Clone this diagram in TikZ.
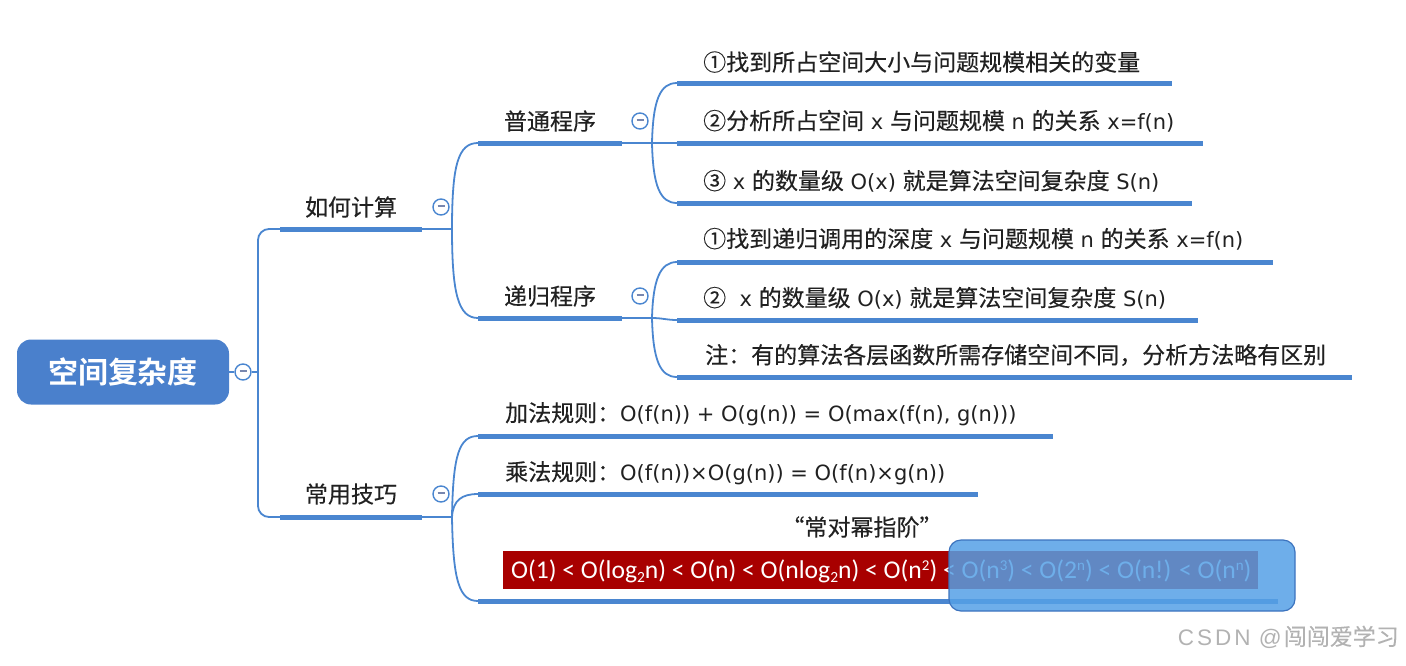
\documentclass[tikz,border=0pt]{standalone}
\usepackage{fontspec}
\setmainfont{DejaVu Sans}
\newfontfamily\cjk{Noto Sans CJK SC}[FakeBold=0.25]
\newfontfamily\cjkroot{Noto Sans CJK SC Bold}
\newfontfamily\calfont{Carlito}
\newfontfamily\wmfont{Liberation Sans}
\newcommand{\zh}[1]{{\cjk\fontsize{23}{24}\selectfont #1}}
\definecolor{lb}{RGB}{74,134,208}
\definecolor{rootb}{RGB}{74,128,204}
\definecolor{darkred}{RGB}{168,0,0}
\definecolor{ovl}{RGB}{85,160,230}
\definecolor{ovlb}{RGB}{60,115,190}
\definecolor{minusc}{RGB}{120,135,175}
\newcommand{\lsub}[1]{\raisebox{-4pt}{\fontsize{15.5}{16}\selectfont #1}}
\newcommand{\lsup}[1]{\raisebox{8pt}{\fontsize{15}{16}\selectfont #1}}
\begin{document}
\begin{tikzpicture}[x=1pt,y=-1pt,
  ul/.style={line width=5pt, draw=lb},
  conn/.style={line width=1.8pt, draw=lb},
  txt/.style={font=\fontsize{21}{24}\selectfont, text=black!87, inner sep=0pt, anchor=west},
  ctxt/.style={font=\cjk\fontsize{23}{24}\selectfont, text=black!87, inner sep=0pt},
  coll/.style={circle, draw=lb, line width=1.4pt, fill=white, minimum size=16pt, inner sep=0pt,
    text=minusc, font=\fontsize{8}{8}\selectfont},
]
\useasboundingbox (0,0) rectangle (1406,665);

% root
\node[rounded corners=14pt, fill=rootb, minimum width=212pt, minimum height=65pt, inner sep=0pt,
  text=white, font=\cjkroot\fontsize{30}{32}\selectfont] (root) at (123,372) {空间复杂度};
\node[coll] (rc) at (243,372) {\rule[1.5pt]{7pt}{1.6pt}};
\coordinate (r) at (258,372);
\draw[conn] (root.east) -- (rc.west);
\draw[conn] (rc.east) -- (r);

% level 1
\coordinate (a1) at (280,229); \coordinate (a2) at (422,229); \coordinate (aj) at (452,229);
\coordinate (b1) at (280,517); \coordinate (b2) at (422,517); \coordinate (bj) at (452,517);
\draw[conn, rounded corners=11pt] (a1) -| (r);
\draw[conn, rounded corners=11pt] (b1) -| (r);
\draw[ul] (a1) -- (a2); \draw[conn] (a2) -- (aj);
\draw[ul] (b1) -- (b2); \draw[conn] (b2) -- (bj);
\node[ctxt] (n1) at (351,207) {如何计算};
\node[ctxt] (n2) at (351,494) {常用技巧};
\node[coll] (c1) at (441,207) {\rule[1.5pt]{7pt}{1.6pt}};
\node[coll] (c2) at (441,494) {\rule[1.5pt]{7pt}{1.6pt}};

% level 2 under 如何计算
\coordinate (p1) at (478,143); \coordinate (p2) at (622,143); \coordinate (pj) at (652,143);
\coordinate (q1) at (478,318); \coordinate (q2) at (622,318); \coordinate (qj) at (652,318);
\draw[conn] (aj) .. controls (452,165) and (458,143) .. (p1);
\draw[conn] (aj) .. controls (452,293) and (458,318) .. (q1);
\draw[ul] (p1) -- (p2); \draw[conn] (p2) -- (pj);
\draw[ul] (q1) -- (q2); \draw[conn] (q2) -- (qj);
\node[ctxt] (n11) at (550,121) {普通程序};
\node[ctxt] (n12) at (550,296) {递归程序};
\node[coll] (c11) at (640,121) {\rule[1.5pt]{7pt}{1.6pt}};
\node[coll] (c12) at (640,296) {\rule[1.5pt]{7pt}{1.6pt}};

% leaves of 普通程序
\coordinate (u1s) at (677,83);  \coordinate (u1e) at (1172,83);
\coordinate (u2s) at (677,143); \coordinate (u2e) at (1203,143);
\coordinate (u3s) at (677,203); \coordinate (u3e) at (1192,203);
\draw[conn] (pj) .. controls (653,100) and (660,83) .. (u1s);
\draw[conn] (pj) -- (u2s);
\draw[conn] (pj) .. controls (653,186) and (660,203) .. (u3s);
\draw[ul] (u1s) -- (u1e); \draw[ul] (u2s) -- (u2e); \draw[ul] (u3s) -- (u3e);
\node[txt] (t1) at (703,62) {\zh{①找到所占空间大小与问题规模相关的变量}};
\node[txt] (t2) at (703,121) {\zh{②分析所占空间} x \zh{与问题规模} n \zh{的关系} x=f(n)};
\node[txt] (t3) at (703,181) {\zh{③} x \zh{的数量级} O(x) \zh{就是算法空间复杂度} S(n)};

% leaves of 递归程序
\coordinate (v1s) at (677,262); \coordinate (v1e) at (1273,262);
\coordinate (v2s) at (677,320); \coordinate (v2e) at (1198,320);
\coordinate (v3s) at (677,377); \coordinate (v3e) at (1352,377);
\draw[conn] (qj) .. controls (653,280) and (660,262) .. (v1s);
\draw[conn] (qj) .. controls (662,318) and (667,320) .. (v2s);
\draw[conn] (qj) .. controls (653,360) and (660,377) .. (v3s);
\draw[ul] (v1s) -- (v1e); \draw[ul] (v2s) -- (v2e); \draw[ul] (v3s) -- (v3e);
\node[txt] (s1) at (703,239) {\zh{①找到递归调用的深度} x \zh{与问题规模} n \zh{的关系} x=f(n)};
\node[txt] (s2) at (703,298) {\zh{②}\ \ x \zh{的数量级} O(x) \zh{就是算法空间复杂度} S(n)};
\node[txt] (s3) at (705,355) {\zh{注：有的算法各层函数所需存储空间不同，分析方法略有区别}};

% leaves of 常用技巧
\coordinate (w1s) at (478,436); \coordinate (w1e) at (1053,436);
\coordinate (w2s) at (478,494); \coordinate (w2e) at (978,494);
\coordinate (w3s) at (478,601); \coordinate (w3e) at (1278,601);
\draw[conn] (bj) .. controls (453,455) and (459,436) .. (w1s);
\draw[conn] (bj) .. controls (453,500) and (462,494) .. (w2s);
\draw[conn] (bj) .. controls (453,580) and (459,601) .. (w3s);
\draw[ul] (w1s) -- (w1e); \draw[ul] (w2s) -- (w2e); \draw[ul] (w3s) -- (w3e);
\node[txt] (k1) at (505,414) {\zh{加法规则：}O(f(n)) + O(g(n)) = O(max(f(n), g(n)))};
\node[txt] (k2) at (505,473) {\zh{乘法规则：}O(f(n))×O(g(n)) = O(f(n)×g(n))};
\node[ctxt] (k3) at (862,527) {“常对幂指阶”};
\fill[darkred] (503,551) rectangle (1258,589);
\node[anchor=west, inner sep=0pt, text=white, font=\calfont\fontsize{25.6}{28}\selectfont] (k4) at (511,571)
  {O(1) < O(log\lsub{2}n) < O(n) < O(nlog\lsub{2}n) < O(n\lsup{2}) < O(n\lsup{3}) < O(2\lsup{n}) < O(n!) < O(n\lsup{n})};
\filldraw[fill=ovl, fill opacity=0.85, draw=ovlb, line width=1.2pt, rounded corners=12pt] (949,540) rectangle (1295,611);

% watermark
\node[anchor=east, inner sep=0pt, text=black!30, font=\fontsize{22.5}{24}\selectfont] (wm) at (1399,637)
  {{\wmfont C\kern3pt S\kern3pt D\kern3pt N\kern2pt\ @\kern2pt}{\cjk\fontsize{23}{24}\selectfont 闯闯爱学习}};
\end{tikzpicture}
\end{document}
